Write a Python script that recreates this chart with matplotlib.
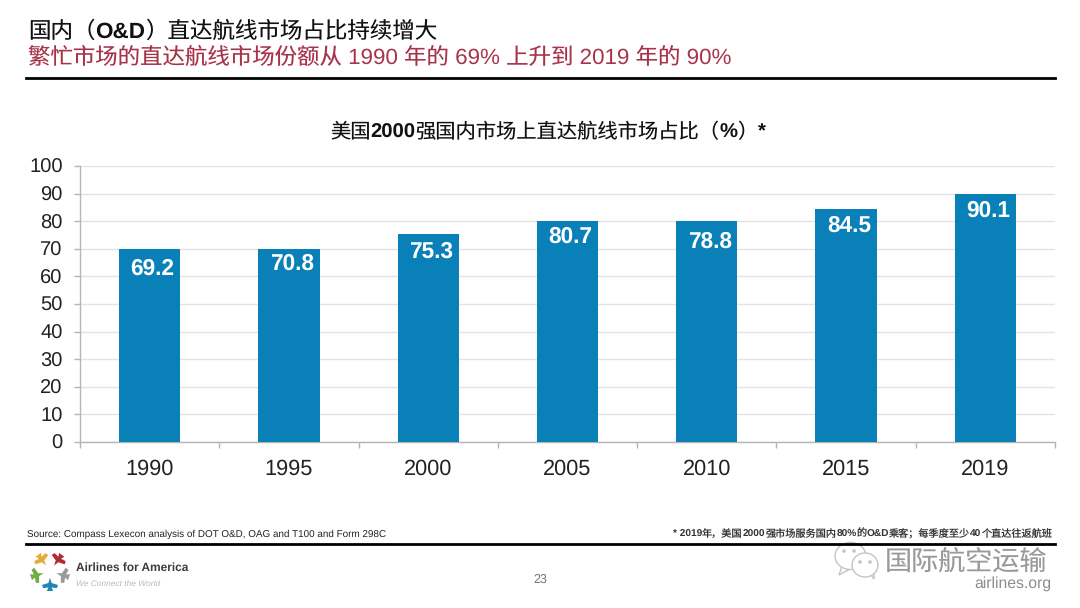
import numpy as np
import matplotlib
matplotlib.use("Agg")
import matplotlib.pyplot as plt
from matplotlib.lines import Line2D
from matplotlib.patches import Ellipse, Polygon, Circle

plt.rcParams["font.family"] = ["Liberation Sans", "Noto Sans CJK SC", "DejaVu Sans"]
plt.rcParams["text.hinting"] = "none"
plt.rcParams["text.kerning_factor"] = 0

# data
years = ["1990", "1995", "2000", "2005", "2010", "2015", "2019"]
bar_heights = [70, 70, 75.3, 80, 80, 84.5, 90]   # bar tops as drawn
label_values = [69.2, 70.8, 75.3, 80.7, 78.8, 84.5, 90.1]
y_ticks = list(range(0, 101, 10))

W, H = 1080, 608
BLUE = "#0a80b8"
GRID = "#e3e3e3"
AXIS = "#b5b5b5"
RED = "#a8344a"


def fx(x):
    return x / W


def fy(y):
    return 1 - y / H


def text_runs(fig, x, y, runs, fontsize, color):
    # 一段文字里中文常规、西文粗体，逐段接着画
    renderer = fig.canvas.get_renderer()
    for s, weight in runs:
        t = fig.text(fx(x), fy(y), s, fontsize=fontsize, fontweight=weight, color=color, va="center")
        x += t.get_window_extent(renderer).width * W / fig.bbox.width
    return x


fig = plt.figure(figsize=(W / 100, H / 100), dpi=100, facecolor="white")

# =========================
# bar chart
# =========================
ax = fig.add_axes([fx(80), fy(442), (1055 - 80) / W, (442 - 166) / H])
x = np.arange(len(years))
ax.bar(x, bar_heights, width=0.44, color=BLUE, zorder=3)
ax.set_xlim(-0.5, len(years) - 0.5)
ax.set_ylim(0, 100)

ax.set_yticks(y_ticks)
ax.set_xticks(x)
ax.set_xticklabels(years)
ax.set_xticks(np.arange(-0.5, len(years)), minor=True)
ax.tick_params(axis="y", labelsize=14.5, length=4.5, width=1, color=AXIS, pad=8, labelcolor="#222222")
ax.tick_params(axis="x", which="major", length=0, labelsize=15.7, pad=12, labelcolor="#222222")
ax.tick_params(axis="x", which="minor", length=4.5, width=1, color=AXIS)
ax.grid(axis="y", color=GRID, linewidth=1, zorder=0)
for side in ["top", "right"]:
    ax.spines[side].set_visible(False)
for side in ["left", "bottom"]:
    ax.spines[side].set_color(AXIS)
    ax.spines[side].set_linewidth(1)

for i, val in enumerate(label_values):
    ax.text(i + 0.02, val - 6.3, f"{val:.1f}", ha="center", va="center", color="white", fontsize=16.3,
            fontweight="bold", zorder=4)

# =========================
# headings and rules
# =========================
text_runs(fig, 28, 32, [("国内（", "normal"), ("O&D", "bold"), ("）直达航线市场占比持续增大", "normal")], 16.2, "#111111")
fig.text(fx(28), fy(57.5), "繁忙市场的直达航线市场份额从 1990 年的 69% 上升到 2019 年的 90%", fontsize=16.15,
         color=RED, va="center")
text_runs(fig, 330, 132.5, [("美国", "normal"), ("2000", "bold"), ("强国内市场上直达航线市场占比（", "normal"),
                            ("%", "bold"), ("）", "normal"), ("*", "bold")], 14.6, "#111111")

fig.add_artist(Line2D([fx(26), fx(1055)], [fy(77.5)] * 2, color="black", lw=2))
fig.add_artist(Line2D([fx(26), fx(1055)], [fy(543.5)] * 2, color="black", lw=2))

# =========================
# footer
# =========================
fig.text(fx(27), fy(534), "Source: Compass Lexecon analysis of DOT O&D, OAG and T100 and Form 298C",
         fontsize=7.1, color="#222222", va="center")
text_runs(fig, 673, 534, [("* 2019", "bold"), ("年，美国", "normal"), ("2000", "bold"), ("强市场服务国内", "normal"),
                          ("80%", "bold"), ("的", "normal"), ("O&D", "bold"), ("乘客；每季度至少", "normal"),
                          ("40", "bold"), ("个直达往返航班", "normal")], 7.3, "#333333")
fig.text(fx(540), fy(580), "23", fontsize=9, color="#777777", ha="center", va="center")

# logo: five small planes round a star
logo = fig.add_axes([fx(28), fy(593), 44 / W, 44 / H])
logo.set_xlim(-1.1, 1.1)
logo.set_ylim(-1.1, 1.1)
logo.axis("off")
plane = np.array([[0.16, 1.0], [0.08, 0.82], [0.34, 0.86], [0.40, 0.70], [0.08, 0.60],
                  [0.0, 0.34], [-0.08, 0.60], [-0.40, 0.70], [-0.34, 0.86], [-0.08, 0.82], [-0.16, 1.0]])
logo_colors = ["#e3ad35", "#6fae45", "#1f87b5", "#9a9a9c", "#b22a36"]
logo_angles = [36, 108, 180, 252, 324]
for col, ang in zip(logo_colors, logo_angles):
    t = np.deg2rad(ang)
    rot = np.array([[np.cos(t), -np.sin(t)], [np.sin(t), np.cos(t)]])
    logo.add_patch(Polygon(plane @ rot.T, closed=True, color=col, lw=0))

fig.text(fx(76), fy(568), "Airlines for America", fontsize=8.6, fontweight="bold", color="#3c3c40", va="center")
fig.text(fx(76), fy(584), "We Connect the World", fontsize=6, style="italic", color="#b9b9b9", va="center")

# watermark
wm = fig.add_axes([fx(830), fy(580), 60 / W, 50 / H])
wm.set_xlim(0, 60)
wm.set_ylim(50, 0)
wm.axis("off")
wm.add_patch(Polygon([[12, 36], [9, 45], [20, 39]], closed=True, fc="white", ec="#c4c4c4", lw=1))
wm.add_patch(Ellipse((20.5, 26), 31, 27, fc="white", ec="#c4c4c4", lw=1))
wm.add_patch(Polygon([[40, 44], [44, 49], [44, 42]], closed=True, fc="white", ec="#c4c4c4", lw=1))
wm.add_patch(Ellipse((35, 35), 26, 24, fc="white", ec="#c4c4c4", lw=1))
for ex, ey in [(14, 21), (24, 21), (30, 32), (40, 32)]:
    wm.add_patch(Circle((ex, ey), 1.1, color="#c4c4c4"))
fig.text(fx(1047), fy(562), "国际航空运输", fontsize=19.5, color="#9a9a9a", ha="right", va="center")
fig.text(fx(1051), fy(584), "airlines.org", fontsize=11.3, color="#8d8d8d", ha="right", va="center")

fig.savefig("out.png", dpi=100)
